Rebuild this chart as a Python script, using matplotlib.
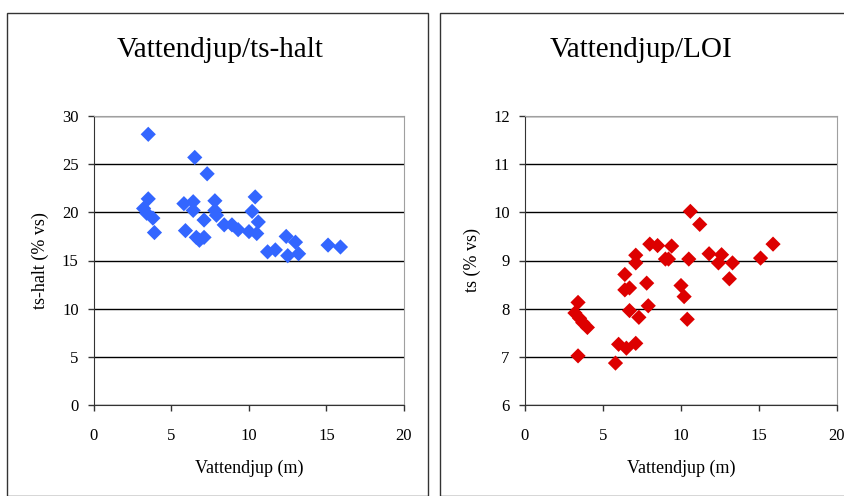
import matplotlib.pyplot as plt
from matplotlib.patches import Rectangle

# vattendjup (m) vs ts-halt (% vs)
depth_ts = [3.2, 3.5, 3.5, 3.4, 3.8, 3.9, 5.8, 5.9, 6.4, 6.4, 6.5, 6.6,
            6.8, 7.1, 7.1, 7.3, 7.8, 7.8, 7.9, 8.4, 8.9, 9.3, 10.0, 10.2,
            10.4, 10.5, 10.6, 11.2, 11.7, 12.4, 12.5, 13.0, 13.2, 15.1, 15.9]
ts_halt = [20.4, 28.1, 21.4, 19.9, 19.4, 17.9, 20.9, 18.1, 21.1, 20.2, 25.7, 17.4,
           17.1, 17.4, 19.2, 24.0, 21.2, 20.2, 19.7, 18.7, 18.7, 18.2, 18.0, 20.1,
           21.6, 17.8, 19.0, 15.9, 16.1, 17.5, 15.5, 16.9, 15.7, 16.6, 16.4]

# vattendjup (m) vs LOI
depth_loi = [3.4, 3.2, 3.5, 3.7, 4.0, 3.4, 5.8, 6.0, 6.5, 7.1, 6.4, 6.4,
             6.7, 6.7, 7.3, 7.1, 7.1, 7.8, 7.9, 8.0, 8.5, 9.0, 9.2, 9.4,
             10.0, 10.2, 10.4, 10.5, 10.6, 11.2, 11.8, 12.4, 12.6, 13.3, 13.1,
             15.1, 15.9]
loi = [8.13, 7.91, 7.80, 7.71, 7.61, 7.02, 6.87, 7.26, 7.18, 7.28, 8.71, 8.39,
       8.43, 7.96, 7.82, 9.11, 8.95, 8.53, 8.06, 9.34, 9.31, 9.03, 9.03, 9.30,
       8.48, 8.25, 7.78, 9.03, 10.02, 9.75, 9.14, 8.95, 9.12, 8.95, 8.62,
       9.05, 9.34]

xticks = [0, 5, 10, 15, 20]

plt.rcParams['font.family'] = 'Liberation Serif'

fig = plt.figure(figsize=(8.45, 4.96), dpi=100)
W, H = 845, 496

# panel frames
fig.patches.append(Rectangle((7 / W, 0), 421 / W, 1 - 13 / H, transform=fig.transFigure,
                             fill=False, edgecolor='#333333', linewidth=1))
fig.patches.append(Rectangle((440 / W, 0), 420 / W, 1 - 13 / H, transform=fig.transFigure,
                             fill=False, edgecolor='#333333', linewidth=1))

def make_axes(x0, x1):
    return fig.add_axes([x0 / W, 1 - 405 / H, (x1 - x0) / W, (405 - 116) / H])

def style(ax, ylim, yticks, ylabel, title, cx):
    ax.set_xlim(0, 20)
    ax.set_ylim(*ylim)
    ax.set_xticks(xticks)
    ax.set_yticks(yticks)
    ax.yaxis.grid(True, color='black', linewidth=1)
    ax.set_axisbelow(True)
    for s in ['top', 'right']:
        ax.spines[s].set_color('#a0a0a0')
    for s in ['left', 'bottom']:
        ax.spines[s].set_color('#333333')
    ax.tick_params(direction='out', length=4.5, width=1, labelsize=12, color='#333333')
    ax.tick_params(axis='y', pad=6.5)
    ax.tick_params(axis='x', pad=12)
    ax.set_xlabel('Vattendjup (m)', fontsize=13, labelpad=11)
    ax.set_ylabel(ylabel, fontsize=13, labelpad=9)
    fig.text(cx / W, 1 - 50 / H, title, fontsize=21, ha='center', va='center')

ax1 = make_axes(94, 404)
ax1.scatter(depth_ts, ts_halt, marker='D', s=60, color='#3366ff', edgecolors='none', zorder=3)
style(ax1, (0, 30), range(0, 31, 5), 'ts-halt (% vs)', 'Vattendjup/ts-halt', 220)

ax2 = make_axes(525, 837)
ax2.scatter(depth_loi, loi, marker='D', s=60, color='#dd0000', edgecolors='none', zorder=3)
style(ax2, (6, 12), range(6, 13), 'ts (% vs)', 'Vattendjup/LOI', 641)

fig.savefig('out.png', dpi=100)
